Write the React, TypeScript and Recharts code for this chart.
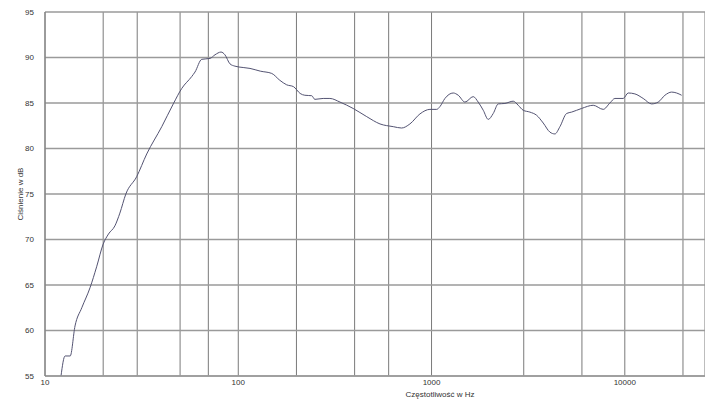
import { LineChart, Line, XAxis, YAxis, CartesianGrid, Label } from "recharts";

const freqs = [
  12.1, 12.7, 13.5, 14.3, 15.5, 17.1, 18.5, 20.0, 21.3, 23.0, 24.4, 26.2, 29.8, 33.6, 40.2,
  46.1, 51.0, 57.4, 59.7, 64.7, 71.4, 75.8, 81.4, 85.3, 90.6, 96.1, 106, 115, 130, 149,
  164, 178, 193, 209, 221, 240, 249, 275, 298, 336, 393, 462, 541, 634, 700,
  773, 871, 981, 1063, 1105, 1173, 1295, 1375, 1489, 1643, 1744, 1852, 1965, 2086, 2214,
  2397, 2647, 2809, 2981, 3229, 3498, 3784, 4098, 4349, 4617, 5001, 5306, 5976, 6864, 7732,
  8374, 8889, 9811, 10414, 11277, 12451, 13760, 14885, 16127, 17467, 18535, 19677,
];

const levels = [
  55.0, 57.2, 57.2, 60.5, 62.5, 64.7, 67.0, 69.5, 70.6, 71.5, 72.9, 75.0, 76.9, 79.4, 82.4,
  84.9, 86.6, 87.9, 88.4, 89.8, 89.9, 90.3, 90.6, 90.3, 89.3, 89.05, 88.9, 88.8, 88.5, 88.25,
  87.5, 87.0, 86.8, 86.05, 85.85, 85.8, 85.4, 85.5, 85.5, 85.1, 84.4, 83.5, 82.7, 82.4, 82.25,
  82.7, 83.8, 84.3, 84.3, 84.6, 85.5, 86.1, 85.85, 85.1, 85.7, 85.1, 84.2, 83.2, 83.85, 84.9,
  84.95, 85.2, 84.75, 84.2, 84.0, 83.65, 82.8, 81.8, 81.6, 82.4, 83.85, 84.0, 84.4, 84.75, 84.3,
  85.0, 85.5, 85.5, 86.1, 86.0, 85.5, 84.9, 85.1, 85.85, 86.2, 86.1, 85.85,
];

const xTicks = [
  10, 20, 30, 40, 50, 60, 70, 80, 90,
  100, 200, 300, 400, 500, 600, 700, 800, 900,
  1000, 2000, 3000, 4000, 5000, 6000, 7000, 8000, 9000,
  10000, 20000,
];
const xLabels = [10, 100, 1000, 10000];
const yTicks = [55, 60, 65, 70, 75, 80, 85, 90, 95];

const data = freqs.map((f, i) => ({ f, db: levels[i] }));

const font = "'Liberation Sans', Arial, sans-serif";

function FreqTick(props: any) {
  const { x, y, payload } = props;
  if (!xLabels.includes(payload.value)) return null;
  return (
    <text x={x} y={y} dy={1} textAnchor="middle" fontSize={8} fill="#333" fontFamily={font}>
      {payload.value}
    </text>
  );
}

export default function App() {
  return (
    <div style={{ position: "absolute", left: 0, top: 0, width: 705, height: 406, background: "#fff" }}>
      <LineChart width={705} height={406} data={data} margin={{ top: 12, right: 0, bottom: 8, left: 0 }}>
        <CartesianGrid horizontal={false} stroke="#7a7a7a" strokeWidth={1} />
        <CartesianGrid vertical={false} stroke="#9a9a9a" strokeWidth={1.5} />
        <XAxis
          dataKey="f"
          type="number"
          scale="log"
          domain={[10, 26000]}
          ticks={xTicks}
          tick={<FreqTick />}
          tickLine={false}
          axisLine={{ stroke: "#9a9a9a", strokeWidth: 1.5 }}
          height={22}
          allowDataOverflow
        >
          <Label
            value="Częstotliwość w Hz"
            position="insideBottom"
            offset={0}
            dx={65}
            dy={-1}
            style={{ fontSize: 8, fill: "#333", fontFamily: font }}
          />
        </XAxis>
        <YAxis
          type="number"
          domain={[55, 95]}
          ticks={yTicks}
          tickLine={false}
          tickMargin={5}
          axisLine={{ stroke: "#7a7a7a", strokeWidth: 1 }}
          width={45}
          tick={{ fontSize: 8, fill: "#333", fontFamily: font }}
        >
          <Label
            value="Ciśnienie w dB"
            angle={-90}
            position="insideLeft"
            offset={20}
            style={{ fontSize: 8, fill: "#333", fontFamily: font, textAnchor: "middle" }}
          />
        </YAxis>
        <Line
          dataKey="db"
          type="monotone"
          stroke="#535372"
          strokeWidth={1}
          dot={false}
          isAnimationActive={false}
        />
      </LineChart>
    </div>
  );
}
